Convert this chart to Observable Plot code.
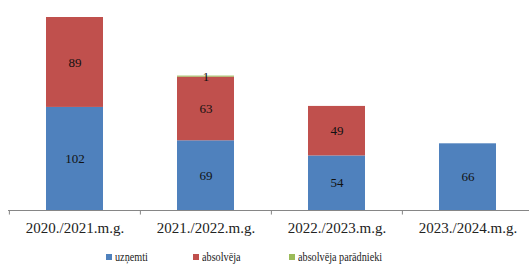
<!DOCTYPE html>
<html>
<head>
<meta charset="utf-8">
<script src="https://cdn.jsdelivr.net/npm/d3@7"></script>
<script src="https://cdn.jsdelivr.net/npm/@observablehq/plot@0.6"></script>
<style>
  body { margin: 0; background: #fff; font-family: 'Liberation Serif', serif; }
  svg, svg text { font-family: 'Liberation Serif', serif !important; }
  #legend { display: flex; justify-content: flex-start; font-size: 12px; color: #222; height: 20px; align-items: center; padding-top: 3px; padding-left: 106px; }
  #legend .item { display: flex; align-items: center; white-space: nowrap; }
  #legend .item:nth-child(1) { width: 87px; }
  #legend .item:nth-child(2) { width: 96px; }
  #legend .sw { width: 6px; height: 6px; margin-right: 3px; flex: none; }
  #legend .lbl { display: inline-block; transform: scaleX(0.85); transform-origin: left center; }
</style>
</head>
<body>
<div id="chart"></div>
<div id="legend"></div>
<script>
const categories = ["2020./2021.m.g.", "2021./2022.m.g.", "2022./2023.m.g.", "2023./2024.m.g."];
const series = ["uzņemti", "absolvēja", "absolvēja parādnieki"];
const uznemti = [102, 69, 54, 66];
const absolveja = [89, 63, 49, 0];
const paradnieki = [0, 1, 0, 0];
const colors = ["#4f81bd", "#c0504d", "#9bbb59"];

const values = [uznemti, absolveja, paradnieki];
const data = [];
categories.forEach((c, i) => {
  series.forEach((s, j) => data.push({cat: c, series: s, value: values[j][i]}));
});

const W = 529, ML = 8, MR = -4;
const step = (W - ML - MR) / categories.length;
const FONT = "'Liberation Serif', serif";

const chart = Plot.plot({
  width: W,
  height: 244,
  marginLeft: ML,
  marginRight: MR,
  marginTop: 17,
  marginBottom: 34,
  style: {fontFamily: FONT, background: "#fff"},
  x: {domain: categories, paddingInner: 0.565, paddingOuter: 0.2825},
  y: {domain: [0, 191], axis: null},
  color: {domain: series, range: colors},
  marks: [
    Plot.barY(data, {x: "cat", y: "value", fill: "series", order: series}),
    Plot.textY(data, Plot.stackY({x: "cat", y: "value", z: "series", order: series, text: d => d.value > 0 ? String(d.value) : "", fontSize: 13, fontFamily: FONT, fill: "#111"})),
    Plot.ruleY([0], {stroke: "#868686"}),
    Plot.ruleX(categories, {x: d => d, dx: -step / 2, y1: 0, y2: -4.5, stroke: "#868686"}),
    Plot.axisX({tickSize: 0, tickPadding: 12, fontSize: 15, fontFamily: FONT, fill: "#222", label: null})
  ]
});
document.getElementById("chart").appendChild(chart);

const legend = document.getElementById("legend");
series.forEach((s, j) => {
  const item = document.createElement("div");
  item.className = "item";
  const sw = document.createElement("span");
  sw.className = "sw";
  sw.style.background = colors[j];
  const t = document.createElement("span");
  t.className = "lbl";
  t.textContent = s;
  item.appendChild(sw);
  item.appendChild(t);
  legend.appendChild(item);
});
</script>
</body>
</html>
